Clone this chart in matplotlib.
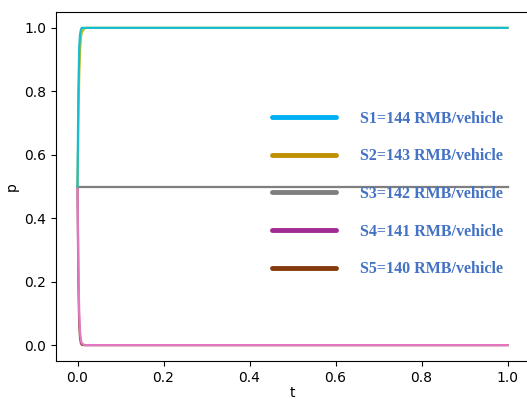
import matplotlib
matplotlib.use("Agg")
import matplotlib.pyplot as plt
from matplotlib.lines import Line2D

# Data
t = [0.0, 0.002, 0.004, 0.006, 0.008, 0.010, 0.015, 0.020, 0.030, 1.0]
p_s5 = [0.5, 0.20, 0.06, 0.02, 0.005, 0.001, 0.0, 0.0, 0.0, 0.0]
p_s4 = [0.5, 0.25, 0.10, 0.04, 0.015, 0.006, 0.001, 0.0, 0.0, 0.0]
p_s3 = [0.5, 0.5, 0.5, 0.5, 0.5, 0.5, 0.5, 0.5, 0.5, 0.5]
p_s2 = [0.5, 0.70, 0.85, 0.93, 0.97, 0.985, 0.997, 1.0, 1.0, 1.0]
p_s1 = [0.5, 0.80, 0.94, 0.98, 0.995, 1.0, 1.0, 1.0, 1.0, 1.0]

series = [p_s5, p_s4, p_s3, p_s2, p_s1]
line_colors = ["tab:brown", "tab:pink", "tab:gray", "tab:olive", "tab:cyan"]

legend_labels = ["S1=144 RMB/vehicle", "S2=143 RMB/vehicle", "S3=142 RMB/vehicle",
                 "S4=141 RMB/vehicle", "S5=140 RMB/vehicle"]
legend_colors = ["#00B0F0", "#BF9000", "#7F7F7F", "#A02B93", "#843C0C"]

fig = plt.figure(figsize=(5.27, 3.99), dpi=100)
ax = fig.add_axes([56/527, 38/399, 473/527, 349/399])

for y, c in zip(series, line_colors):
    ax.plot(t, y, color=c, lw=1.6)

ax.set_xlim(-0.05, 1.05)
ax.set_ylim(-0.05, 1.05)
ax.set_xticks([0.0, 0.2, 0.4, 0.6, 0.8, 1.0])
ax.set_yticks([0.0, 0.2, 0.4, 0.6, 0.8, 1.0])
ax.set_xlabel("t", labelpad=1)
ax.set_ylabel("p")

handles = [Line2D([], [], color=c, lw=3.5, solid_capstyle="round") for c in legend_colors]
leg = fig.legend(handles, legend_labels, loc="center left",
                 bbox_to_anchor=(272/527, (399-194)/399), frameon=False,
                 prop={"family": "Liberation Serif", "weight": "bold", "size": 11.5},
                 handlelength=4.0, handletextpad=1.5, labelspacing=1.35,
                 borderpad=0, borderaxespad=0)
for txt in leg.get_texts():
    txt.set_color("#4472C4")

fig.savefig("out.png", dpi=100)
